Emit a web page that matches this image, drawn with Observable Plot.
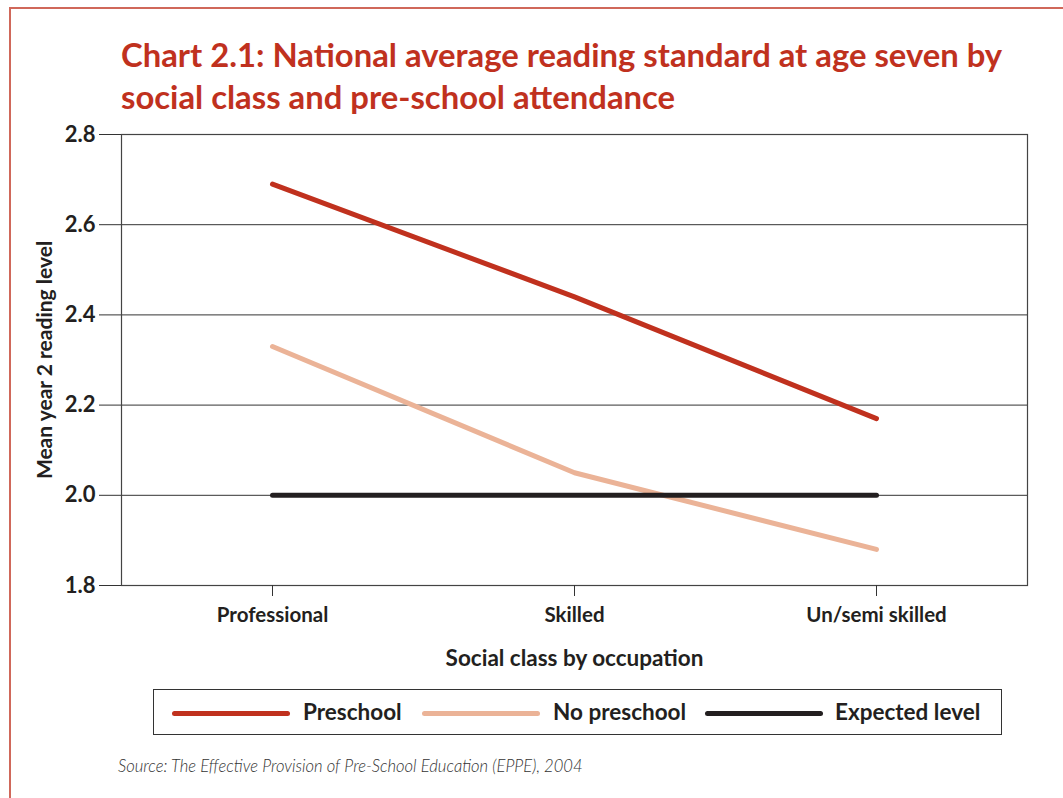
<!DOCTYPE html>
<html>
<head>
<meta charset="utf-8">
<script src="https://cdn.jsdelivr.net/npm/d3@7"></script>
<script src="https://cdn.jsdelivr.net/npm/@observablehq/plot@0.6"></script>
<style>
  html, body { margin: 0; padding: 0; background: #fff; }
  #page { position: relative; width: 1063px; height: 798px; overflow: hidden; font-family: Lato, "Open Sans", sans-serif; }
  #frame { position: absolute; left: 9px; top: 7px; width: 1100px; height: 900px; border-left: 2px solid #d0685a; border-top: 2px solid #d0685a; box-sizing: border-box; }
  #title { position: absolute; left: 121px; top: 34px; width: 940px; color: #c0311e; font-weight: 700; font-size: 32.8px; line-height: 42px; white-space: nowrap; }
  #chart { position: absolute; left: 0; top: 120px; }
  #legend { position: absolute; left: 153px; top: 689px; width: 849px; height: 46px; border: 1.5px solid #333; box-sizing: border-box; }
  .sw { position: absolute; top: 21px; height: 5px; border-radius: 3px; }
  .lt { position: absolute; top: 9px; font-size: 22.5px; font-weight: 700; color: #231f20; line-height: 26px; }
  #source { position: absolute; left: 118px; top: 756px; font-size: 16.6px; font-style: italic; font-weight: 300; color: #333; }
</style>
</head>
<body>
<div id="page">
  <div id="frame"></div>
  <div id="title">Chart 2.1: National average reading standard at age seven by<br>social class and pre-school attendance</div>
  <div id="chart"></div>
  <div id="legend"></div>
  <div id="source">Source: The Effective Provision of Pre-School Education (EPPE), 2004</div>
</div>
<script>
const categories = ["Professional", "Skilled", "Un/semi skilled"];
const preschool = [2.69, 2.44, 2.17];
const noPreschool = [2.33, 2.05, 1.88];
const expectedLevel = [2.0, 2.0, 2.0];
const seriesNames = ["Preschool", "No preschool", "Expected level"];
const seriesColors = ["#c0311e", "#ebb397", "#231f20"];
const yTicks = [1.8, 2.0, 2.2, 2.4, 2.6, 2.8];

const seriesValues = [preschool, noPreschool, expectedLevel];
const rows = seriesNames.flatMap((s, i) =>
  categories.map((c, j) => ({series: s, category: c, value: seriesValues[i][j]})));

const fontFamily = "Lato, 'Open Sans', sans-serif";

const chart = Plot.plot({
  width: 1063,
  height: 555,
  marginTop: 14,
  marginBottom: 90,
  marginLeft: 121,
  marginRight: 36,
  style: {fontFamily, fontSize: "20px", fontWeight: 700, color: "#231f20", background: "transparent"},
  x: {type: "point", domain: categories, padding: 0.5, label: null},
  y: {domain: [1.8, 2.8], ticks: yTicks, label: null},
  color: {domain: seriesNames, range: seriesColors},
  marks: [
    Plot.ruleY(yTicks.slice(1), {stroke: "#333", strokeWidth: 1}),
    Plot.frame({stroke: "#444", strokeWidth: 1.2}),
    Plot.axisY({ticks: yTicks, tickFormat: d3.format(".1f"), tickSize: 22, tickPadding: 4, stroke: "#333", fontSize: 22, fontWeight: 700, label: null}),
    Plot.axisX({tickSize: 11, tickPadding: 11, stroke: "#333", fontSize: 20.5, fontWeight: 700, label: null}),
    Plot.line(rows, {x: "category", y: "value", z: "series", stroke: "series", strokeWidth: 5, strokeLinecap: "round", strokeLinejoin: "round"}),
    Plot.text(["Social class by occupation"], {frameAnchor: "bottom", dy: 80, fontSize: 22.5, fontWeight: 700, fill: "#231f20"}),
    Plot.text(["Mean year 2 reading level"], {frameAnchor: "left", textAnchor: "middle", dx: -76, rotate: -90, fontSize: 21, fontWeight: 700, fill: "#231f20"})
  ]
});
document.getElementById("chart").appendChild(chart);

const legend = document.getElementById("legend");
const swX = [18, 268, 551];
const txX = [149, 399, 681];
seriesNames.forEach((s, i) => {
  const sw = document.createElement("div");
  sw.className = "sw";
  sw.style.left = swX[i] + "px";
  sw.style.width = "118px";
  sw.style.background = seriesColors[i];
  legend.appendChild(sw);
  const t = document.createElement("div");
  t.className = "lt";
  t.style.left = txX[i] + "px";
  t.textContent = s;
  legend.appendChild(t);
});
</script>
</body>
</html>
